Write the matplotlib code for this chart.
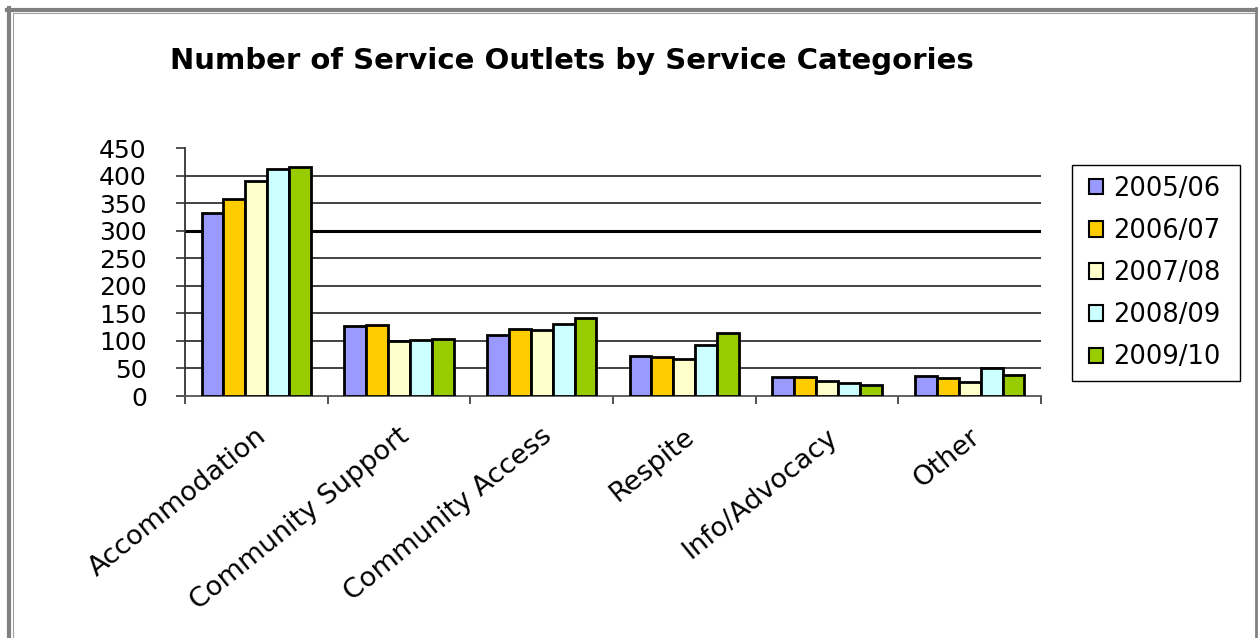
import matplotlib
matplotlib.use("Agg")
import matplotlib.pyplot as plt
import matplotlib.transforms as mtransforms
from matplotlib.lines import Line2D
from matplotlib.patches import Rectangle
import numpy as np

categories = ["Accommodation", "Community Support", "Community Access",
              "Respite", "Info/Advocacy", "Other"]
years = ["2005/06", "2006/07", "2007/08", "2008/09", "2009/10"]
v_2005_06 = [332, 127, 111, 73, 34, 36]
v_2006_07 = [357, 129, 122, 70, 34, 33]
v_2007_08 = [390, 99, 120, 67, 27, 25]
v_2008_09 = [411, 102, 130, 92, 24, 50]
v_2009_10 = [415, 104, 141, 114, 20, 39]
yticks = [0, 50, 100, 150, 200, 250, 300, 350, 400, 450]

series = [v_2005_06, v_2006_07, v_2007_08, v_2008_09, v_2009_10]
colors = ["#9999FF", "#FFCC00", "#FFFFCC", "#CCFFFF", "#99CC00"]

W, H = 1258, 638
fig = plt.figure(figsize=(W / 100, H / 100), dpi=100)
fig.patch.set_facecolor("white")

ax = fig.add_axes([185 / W, 1 - 396 / H, 856 / W, 248 / H])

x = np.arange(len(categories))
bw = 0.1535
for i, (vals, c, lab) in enumerate(zip(series, colors, years)):
    ax.bar(x + (i - 2) * bw, vals, width=bw, color=c, edgecolor="black",
           linewidth=2.0, label=lab, zorder=3)

ax.set_xlim(-0.5, len(categories) - 0.5)
ax.set_ylim(0, 450)
ax.set_yticks(yticks)
ax.set_yticklabels([str(t) for t in yticks], fontsize=18, family="DejaVu Sans")

# horizontal gridlines (none at the top value)
for t in yticks[1:-1]:
    lw = 2.2 if t == 300 else 1.3
    col = "black" if t == 300 else "#333333"
    ax.axhline(t, color=col, linewidth=lw, zorder=1)

for s in ["top", "right"]:
    ax.spines[s].set_visible(False)
ax.spines["left"].set_color("#333333")
ax.spines["left"].set_linewidth(1.3)
ax.spines["bottom"].set_color("#555555")
ax.spines["bottom"].set_linewidth(1.3)

ax.tick_params(axis="y", direction="out", length=6.5, width=1.2,
               color="#333333", pad=21)

# category boundaries carry the x tick marks; labels sit at the centres
ax.set_xticks(np.arange(len(categories) + 1) - 0.5)
ax.set_xticklabels([])
ax.tick_params(axis="x", which="major", direction="out", length=6, width=1.2,
               color="#333333")
ax.set_xticks(x, minor=True)
ax.set_xticklabels(categories, minor=True, rotation=39, ha="right",
                   rotation_mode="anchor", fontsize=19.5, family="DejaVu Sans")
ax.tick_params(axis="x", which="minor", length=0, pad=27)
shift = mtransforms.ScaledTranslation(7 / 100, 0, fig.dpi_scale_trans)
for lbl in ax.get_xticklabels(minor=True):
    lbl.set_va("center")
    lbl.set_transform(lbl.get_transform() + shift)

# legend entries, with a separately drawn box around them
leg = ax.legend(loc="upper left", bbox_to_anchor=(1081 / W, 1 - 168 / H),
                bbox_transform=fig.transFigure,
                prop={"family": "DejaVu Sans", "size": 18.5},
                frameon=False,
                handlelength=0.55, handleheight=0.55, handletextpad=0.4,
                labelspacing=0.63, borderpad=0.3, borderaxespad=0)
for h in leg.legend_handles:
    h.set_linewidth(1.5)
fig.add_artist(Rectangle((1072 / W, 1 - 381 / H), 168 / W, 216 / H,
                         transform=fig.transFigure, fill=False,
                         edgecolor="black", linewidth=1.0))

fig.text(572 / W, 1 - 61 / H, "Number of Service Outlets by Service Categories",
         ha="center", va="center", fontsize=21, fontweight="bold",
         family="DejaVu Sans")

# outer frame
gray = "#808080"
fig.add_artist(Line2D([7 / W, 1257 / W], [1 - 10 / H, 1 - 10 / H],
                      transform=fig.transFigure, color=gray, linewidth=3))
fig.add_artist(Line2D([9 / W, 9 / W], [0, 1 - 8 / H],
                      transform=fig.transFigure, color=gray, linewidth=3))
fig.add_artist(Line2D([12.5 / W, 12.5 / W], [0, 1 - 12.5 / H],
                      transform=fig.transFigure, color="#a0a0a0", linewidth=0.8))
fig.add_artist(Line2D([12.5 / W, 1254 / W], [1 - 12.5 / H, 1 - 12.5 / H],
                      transform=fig.transFigure, color="#a0a0a0", linewidth=0.8))
fig.add_artist(Line2D([1256 / W, 1256 / W], [0, 1 - 8 / H],
                      transform=fig.transFigure, color=gray, linewidth=2))

fig.savefig("out.png", dpi=100)
